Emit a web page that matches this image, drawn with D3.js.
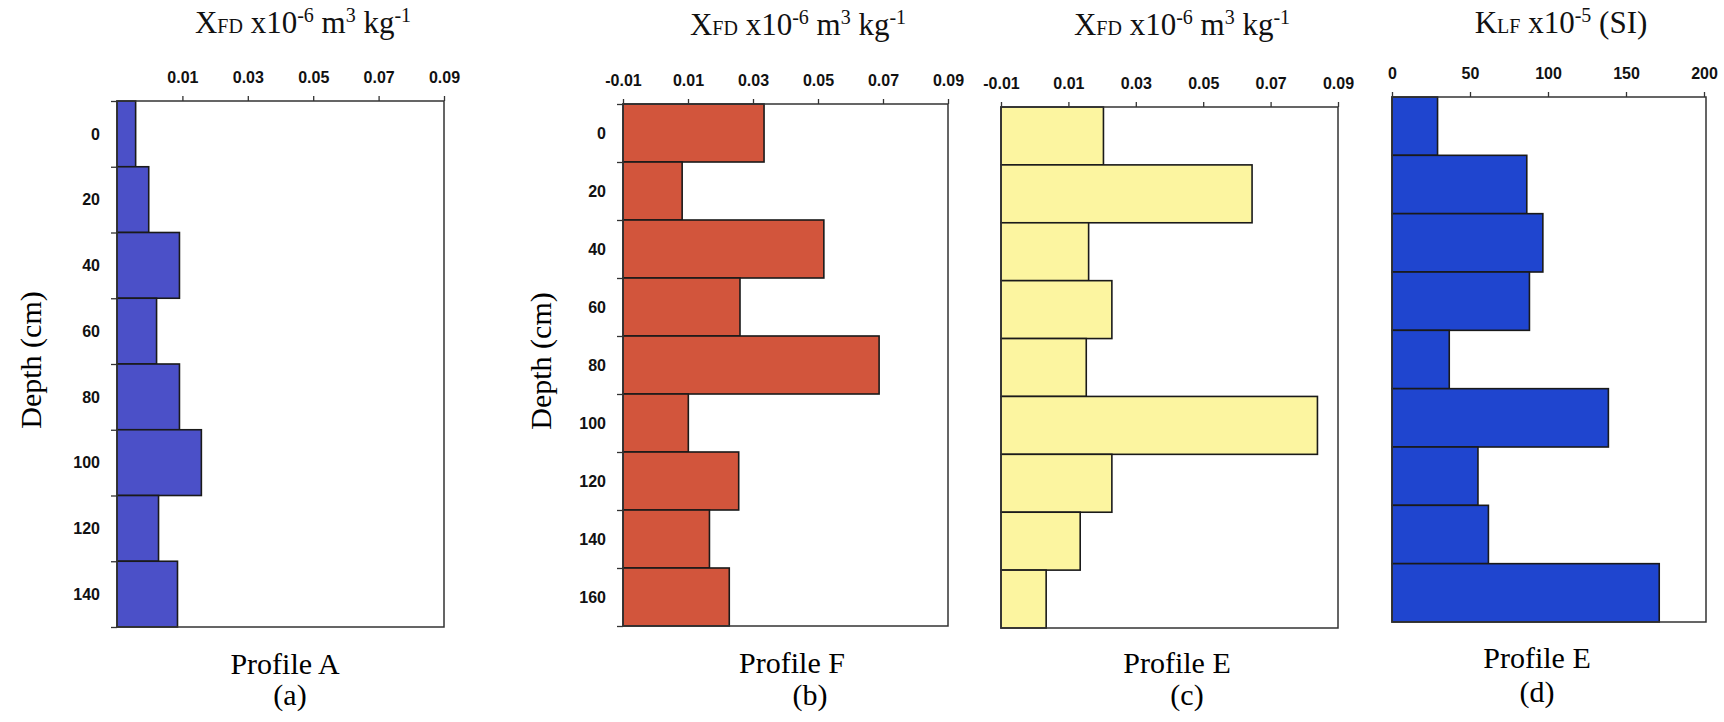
<!DOCTYPE html>
<html>
<head>
<meta charset="utf-8">
<script src="https://cdn.jsdelivr.net/npm/d3@7"></script>
<style>
  body { margin: 0; background: #fff; }
  svg { display: block; }
</style>
</head>
<body>
<svg width="1724" height="722"></svg>
<script>
// depth classes (cm), bar centres
var depthA = [0, 20, 40, 60, 80, 100, 120, 140];
var depthFE = [0, 20, 40, 60, 80, 100, 120, 140, 160];

// values
var xfdProfileA = [-0.0043, -0.0003, 0.0091, 0.0021, 0.0091, 0.0158, 0.0027, 0.0085];
var xfdProfileF = [0.0334, 0.0082, 0.0518, 0.026, 0.0688, 0.0101, 0.0256, 0.0166, 0.0227];
var xfdProfileE = [0.0204, 0.0645, 0.016, 0.0229, 0.0153, 0.0839, 0.0229, 0.0135, 0.0034];
var klfProfileE = [29.2, 86.4, 96.7, 88.1, 36.7, 138.7, 55.1, 61.8, 171.3];

// tick labels
var xfdTicksA = [0.01, 0.03, 0.05, 0.07, 0.09];
var xfdTicks = [-0.01, 0.01, 0.03, 0.05, 0.07, 0.09];
var klfTicks = [0, 50, 100, 150, 200];

var svg = d3.select("svg");

var panels = [
  { depth: depthA, values: xfdProfileA, ticks: xfdTicksA, domain: [-0.01, 0.09], fmt: function(d){ return d.toFixed(2); },
    x0: 117, x1: 444, y0: 101, y1: 627, fill: "#4b50c8", title: "xfd", tx: 303, ty: 33,
    name: "Profile A", nx: 285, ny: 674, tag: "(a)", gx: 290, gy: 705, ylab: true, lx: 30 },
  { depth: depthFE, values: xfdProfileF, ticks: xfdTicks, domain: [-0.01, 0.09], fmt: function(d){ return d.toFixed(2); },
    x0: 623, x1: 948, y0: 104, y1: 626, fill: "#d2553c", title: "xfd", tx: 798, ty: 35,
    name: "Profile F", nx: 792, ny: 673, tag: "(b)", gx: 810, gy: 705, ylab: true, lx: 540 },
  { depth: depthFE, values: xfdProfileE, ticks: xfdTicks, domain: [-0.01, 0.09], fmt: function(d){ return d.toFixed(2); },
    x0: 1001, x1: 1338, y0: 107, y1: 628, fill: "#fcf5a0", title: "xfd", tx: 1182, ty: 35,
    name: "Profile E", nx: 1177, ny: 673, tag: "(c)", gx: 1187, gy: 705, ylab: false },
  { depth: depthFE, values: klfProfileE, ticks: klfTicks, domain: [0, 200], fmt: function(d){ return d; },
    x0: 1392, x1: 1706, y0: 97, y1: 622, fill: "#1f45cf", title: "klf", tx: 1561, ty: 33,
    name: "Profile E", nx: 1537, ny: 668, tag: "(d)", gx: 1537, gy: 702, ylab: false }
];

var serif = "'Liberation Serif', 'Times New Roman', serif";
var sans = "'Liberation Sans', Arial, sans-serif";

panels.forEach(function(p) {
  var g = svg.append("g");
  var step = p.depth[1] - p.depth[0];
  var x = d3.scaleLinear().domain(p.domain).range([p.x0, p.x1 - (p.domain[1] == 200 ? 2 : 0)]);
  var y = d3.scaleLinear()
    .domain([p.depth[0] - step / 2, p.depth[p.depth.length - 1] + step / 2])
    .range([p.y0, p.y1]);

  // bars
  g.selectAll("rect.bar")
    .data(p.values)
    .enter()
    .append("rect")
      .attr("class", "bar")
      .attr("x", x(p.domain[0]))
      .attr("y", function(d, i){ return y(p.depth[i] - step / 2); })
      .attr("width", function(d){ return x(d) - x(p.domain[0]); })
      .attr("height", function(d, i){ return y(p.depth[i] + step / 2) - y(p.depth[i] - step / 2); })
      .attr("fill", p.fill)
      .attr("stroke", "#1a1a1a")
      .attr("stroke-width", 1.6);

  // frame
  g.append("rect")
    .attr("x", p.x0).attr("y", p.y0)
    .attr("width", p.x1 - p.x0).attr("height", p.y1 - p.y0)
    .attr("fill", "none").attr("stroke", "#333").attr("stroke-width", 1.5);

  // top axis
  var xAxis = g.append("g")
    .attr("transform", "translate(0," + p.y0 + ")")
    .call(d3.axisTop(x).tickValues(p.ticks).tickFormat(p.fmt).tickSize(5).tickPadding(13));
  xAxis.select(".domain").remove();
  xAxis.selectAll("line").attr("stroke", "#333").attr("stroke-width", 1.3);
  xAxis.selectAll("text")
    .style("font-family", sans).style("font-weight", "bold").style("font-size", "16px")
    .attr("fill", "#111");

  if (p.ylab) {
    // ticks at layer boundaries
    var bounds = [p.depth[0] - step / 2].concat(p.depth.map(function(d){ return d + step / 2; }));
    var yt = g.append("g")
      .attr("transform", "translate(" + p.x0 + ",0)")
      .call(d3.axisLeft(y).tickValues(bounds).tickFormat("").tickSize(6));
    yt.select(".domain").remove();
    yt.selectAll("line").attr("stroke", "#333").attr("stroke-width", 1.3);

    // depth labels at layer centres
    var yl = g.append("g")
      .attr("transform", "translate(" + p.x0 + ",0)")
      .call(d3.axisLeft(y).tickValues(p.depth).tickSize(0).tickPadding(17));
    yl.select(".domain").remove();
    yl.selectAll("text")
      .style("font-family", sans).style("font-weight", "bold").style("font-size", "16px")
      .attr("fill", "#111");

    g.append("text")
      .attr("transform", "translate(" + p.lx + "," + ((p.y0 + p.y1) / 2 - 4) + ") rotate(-90)")
      .attr("text-anchor", "middle")
      .attr("dy", "0.35em")
      .style("font-family", serif).style("font-size", "30px")
      .text("Depth (cm)");
  }

  // unit title
  var t = g.append("text")
    .attr("x", p.tx).attr("y", p.ty)
    .attr("text-anchor", "middle")
    .style("font-family", serif).style("font-size", "31px")
    .attr("fill", "#111");
  if (p.title == "xfd") {
    t.append("tspan").text("X");
    t.append("tspan").style("font-size", "20px").text("FD");
    t.append("tspan").text(" x10");
    t.append("tspan").style("font-size", "20px").attr("dy", -11).text("-6");
    t.append("tspan").attr("dy", 11).text(" m");
    t.append("tspan").style("font-size", "20px").attr("dy", -11).text("3");
    t.append("tspan").attr("dy", 11).text(" kg");
    t.append("tspan").style("font-size", "20px").attr("dy", -11).text("-1");
  } else {
    t.append("tspan").text("K");
    t.append("tspan").style("font-size", "20px").text("LF");
    t.append("tspan").text(" x10");
    t.append("tspan").style("font-size", "20px").attr("dy", -11).text("-5");
    t.append("tspan").attr("dy", 11).text(" (SI)");
  }

  // profile name and panel tag
  g.append("text")
    .attr("x", p.nx).attr("y", p.ny)
    .attr("text-anchor", "middle")
    .style("font-family", serif).style("font-size", "30px")
    .text(p.name);
  g.append("text")
    .attr("x", p.gx).attr("y", p.gy)
    .attr("text-anchor", "middle")
    .style("font-family", serif).style("font-size", "30px")
    .text(p.tag);
});
</script>
</body>
</html>
